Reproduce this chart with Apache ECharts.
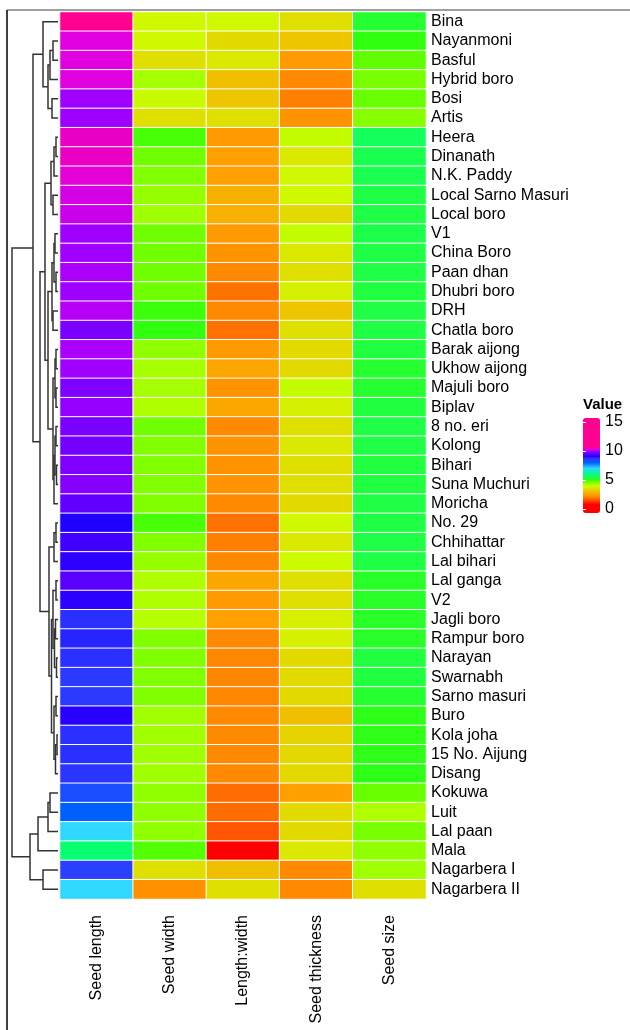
<!DOCTYPE html>
<html>
<head>
<meta charset="utf-8">
<script src="https://cdn.jsdelivr.net/npm/echarts/dist/echarts.min.js"></script>
<style>
html,body{margin:0;padding:0;background:#fff;}
#chart{width:630px;height:1030px;}
</style>
</head>
<body>
<div id="chart"></div>
<script>
// ---------------- DATA ----------------
var rowNames = ["Bina","Nayanmoni","Basful","Hybrid boro","Bosi","Artis","Heera","Dinanath","N.K. Paddy","Local Sarno Masuri","Local boro","V1","China Boro","Paan dhan","Dhubri boro","DRH","Chatla boro","Barak aijong","Ukhow aijong","Majuli boro","Biplav","8 no. eri","Kolong","Bihari","Suna Muchuri","Moricha","No. 29","Chhihattar","Lal bihari","Lal ganga","V2","Jagli boro","Rampur boro","Narayan","Swarnabh","Sarno masuri","Buro","Kola joha","15 No. Aijung","Disang","Kokuwa","Luit","Lal paan","Mala","Nagarbera I","Nagarbera II"];
var colNames = ["Seed length","Seed width","Length:width","Seed thickness","Seed size"];

var seedLength = [11.0,10.3,10.3,10.3,10.0,10.0,10.4,10.4,10.35,10.25,10.2,10.0,10.0,10.05,10.0,10.1,9.7,10.05,10.0,9.75,9.9,9.7,9.65,9.75,9.8,9.5,9.0,9.25,9.1,9.45,9.1,8.8,8.85,8.8,8.6,8.6,9.05,8.8,8.8,8.7,8.3,8.0,7.0,5.8,8.5,7.0];
var seedWidth = [3.8,3.8,3.5,4.25,3.9,3.5,4.9,4.7,4.6,4.4,4.3,4.7,4.7,4.7,4.7,4.95,5.0,4.45,4.25,4.25,4.15,4.7,4.6,4.6,4.6,4.6,4.9,4.6,4.4,4.15,4.15,4.1,4.6,4.6,4.6,4.6,4.3,4.3,4.3,4.3,4.45,4.45,4.45,4.85,3.5,2.25];
var lengthWidth = [3.8,3.4,3.6,3.0,3.1,3.5,2.4,2.5,2.5,2.75,2.75,2.4,2.3,2.15,1.85,2.15,1.85,2.4,2.6,2.3,2.6,2.15,2.3,2.3,2.3,2.15,1.85,2.0,2.15,2.6,2.4,2.5,2.15,2.1,2.1,2.1,2.15,2.15,2.15,2.15,1.8,1.8,1.55,0.8,3.0,3.5];
var seedThickness = [3.5,3.1,2.4,2.15,2.0,2.3,3.95,3.6,3.8,3.8,3.4,3.95,3.6,3.5,3.7,3.1,3.5,3.4,3.4,3.95,3.7,3.5,3.6,3.5,3.5,3.4,3.8,3.6,3.85,3.5,3.5,3.7,3.7,3.4,3.4,3.4,3.0,3.3,3.35,3.35,2.5,3.4,3.4,3.6,2.15,2.15];
var seedSize = [5.2,5.0,4.8,4.65,4.75,4.55,5.55,5.45,5.45,5.35,5.35,5.4,5.35,5.35,5.3,5.35,5.35,5.3,5.2,5.2,5.3,5.35,5.35,5.3,5.3,5.35,5.35,5.35,5.35,5.15,5.15,5.15,5.15,5.3,5.3,5.2,5.05,5.05,5.05,5.05,4.75,4.15,4.65,4.45,4.3,3.5];

// row dendrogram: [childA, childB, height]; numbers = leaf rows, "mK" = earlier merge K
var merges = [
  [1,2,5],["m0",3,8],[4,5,6],["m1","m2",10],[0,"m3",15],
  [6,7,2],["m5",8,4],[9,10,5],["m6","m7",7],
  [11,12,3],[13,14,2],["m9","m10",4],[15,16,5],["m11","m12",6],
  [17,18,2],[19,20,2],["m14","m15",3],[21,22,2],[23,24,1.5],["m17","m18",3],["m19",25,4],["m16","m20",5],
  ["m13","m21",10],["m8","m22",13],
  [26,27,2],["m24",28,4],[29,30,2],[31,32,2.5],[33,34,1.5],["m27","m28",3.5],["m26","m29",5],
  [35,36,2],[37,38,1],["m32",39,2.5],["m31","m33",4],["m30","m34",6.5],["m25","m35",9],
  ["m23","m36",18],["m4","m37",25],
  [40,41,8],["m39",42,10],["m40",43,20],[44,45,15],["m41","m42",28],
  ["m38","m43",46]
];

var legendTicks = [0,5,10,15];

// colour scale stops (value, colour)
var colorStops = [
  [-1,'#ff0000'],[0.8,'#ff0000'],[1.5,'#ff5000'],[2,'#ff8000'],[2.5,'#ffa000'],[3,'#f0c000'],
  [3.5,'#e0e000'],[3.8,'#d0f800'],[4,'#c0ff00'],[4.3,'#a0ff00'],[4.6,'#80ff00'],[4.8,'#60ff00'],
  [5,'#30ff10'],[5.3,'#20ff40'],[5.6,'#10ff60'],[6,'#00ff80'],[7,'#30d8ff'],[8,'#0060ff'],
  [8.5,'#2a40ff'],[8.8,'#2a30ff'],[9,'#2000ff'],[9.5,'#6000ff'],[10,'#a000ff'],[10.3,'#e000e0'],
  [10.6,'#ff0090'],[17,'#ff0090']
];

// ---------------- BUILD ----------------
function hex2rgb(h){return [parseInt(h.substr(1,2),16),parseInt(h.substr(3,2),16),parseInt(h.substr(5,2),16)];}
function colorAt(v){
  for(var i=0;i<colorStops.length-1;i++){
    var a=colorStops[i],b=colorStops[i+1];
    if(v>=a[0]&&v<=b[0]){
      var t=(v-a[0])/(b[0]-a[0]);var ca=hex2rgb(a[1]),cb=hex2rgb(b[1]);
      return 'rgb('+Math.round(ca[0]+(cb[0]-ca[0])*t)+','+Math.round(ca[1]+(cb[1]-ca[1])*t)+','+Math.round(ca[2]+(cb[2]-ca[2])*t)+')';
    }
  }
  return colorStops[colorStops.length-1][1];
}
var vmMin=-0.7, vmMax=15.7;
var palette=[];
for(var k=0;k<=164;k++){palette.push(colorAt(vmMin+(vmMax-vmMin)*k/164));}

var columns=[seedLength,seedWidth,lengthWidth,seedThickness,seedSize];
var heatData=[];
columns.forEach(function(arr,c){arr.forEach(function(v,r){heatData.push([c,r,v]);});});

// dendrogram geometry from merges
var nodeInfo=[];
function info(ref){
  if(typeof ref==='number') return {h:0,y:ref};
  return nodeInfo[parseInt(ref.substr(1),10)];
}
var dendroLines=[];
merges.forEach(function(m,i){
  var a=info(m[0]),b=info(m[1]),h=m[2];
  dendroLines.push({coords:[[a.h,a.y],[h,a.y],[h,b.y],[b.h,b.y]]});
  nodeInfo[i]={h:h,y:(a.y+b.y)/2};
});
var maxH=merges[merges.length-1][2];

var font='"Liberation Sans", Arial, sans-serif';
var gTop=12, gBottom=131;
var legTop=418, legH=95, pxPer=legH/(vmMax-vmMin);

var chart=echarts.init(document.getElementById('chart'),null,{renderer:'canvas'});
chart.setOption({
  backgroundColor:'#fff',
  animation:false,
  grid:[
    {left:60,right:204,top:gTop,bottom:gBottom},
    {left:12,right:630-58,top:gTop,bottom:gBottom},
    {left:583,width:17,top:legTop+(vmMax-15)*pxPer,height:15*pxPer}
  ],
  xAxis:[
    {type:'category',gridIndex:0,data:colNames,position:'bottom',
     axisLine:{show:false},axisTick:{show:false},splitLine:{show:false},
     axisLabel:{interval:0,rotate:90,margin:16,fontSize:16,color:'#000',fontFamily:font}},
    {type:'value',gridIndex:1,min:0,max:maxH,inverse:true,show:false},
    {type:'value',gridIndex:2,min:0,max:1,show:false}
  ],
  yAxis:[
    {type:'category',gridIndex:0,data:rowNames,inverse:true,position:'right',
     axisLine:{show:false},axisTick:{show:false},splitLine:{show:false},
     axisLabel:{interval:0,margin:5,fontSize:16,color:'#000',fontFamily:font}},
    {type:'value',gridIndex:1,min:-0.5,max:rowNames.length-0.5,inverse:true,show:false},
    {type:'value',gridIndex:2,min:0,max:15,interval:5,position:'right',z:10,
     axisLine:{show:false},splitLine:{show:false},
     axisTick:{show:true,inside:true,length:3,lineStyle:{color:'#fff',width:1}},
     axisLabel:{margin:5,fontSize:16,color:'#000',fontFamily:font,
       formatter:function(v){return legendTicks.indexOf(v)>=0?String(v):'';}}},
    {type:'value',gridIndex:2,min:0,max:15,interval:5,position:'left',z:10,
     axisLine:{show:false},splitLine:{show:false},axisLabel:{show:false},
     axisTick:{show:true,inside:true,length:3,lineStyle:{color:'#fff',width:1}}}
  ],
  visualMap:{
    type:'continuous',min:vmMin,max:vmMax,calculable:false,seriesIndex:0,
    left:583,top:legTop,itemWidth:17,itemHeight:legH,padding:0,
    text:null,showLabel:false,
    inRange:{color:palette}
  },
  graphic:[
    {type:'text',left:583,top:397,style:{text:'Value',font:'bold 15px '+font,fill:'#000'}},
    {type:'line',shape:{x1:7,y1:10,x2:630,y2:10},style:{stroke:'#808080',lineWidth:1.5}},
    {type:'line',shape:{x1:7,y1:10,x2:7,y2:1030},style:{stroke:'#000',lineWidth:1.5}}
  ],
  series:[
    {type:'heatmap',xAxisIndex:0,yAxisIndex:0,data:heatData,
     itemStyle:{borderColor:'#fff',borderWidth:1},emphasis:{disabled:true}},
    {type:'lines',coordinateSystem:'cartesian2d',xAxisIndex:1,yAxisIndex:1,polyline:true,
     data:dendroLines,lineStyle:{color:'#333',width:1.5,opacity:1},silent:true}
  ]
});
</script>
</body>
</html>
